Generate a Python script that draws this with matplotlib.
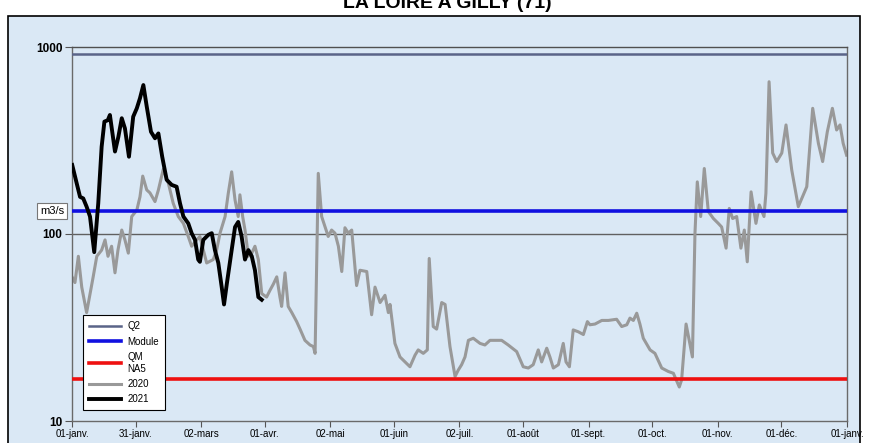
import matplotlib.pyplot as plt
from matplotlib.patches import Rectangle
from matplotlib.ticker import FixedLocator, NullLocator, FixedFormatter

plt.rcParams['font.family'] = ['Liberation Sans', 'DejaVu Sans']

title = 'LA LOIRE A GILLY (71)'

# reference flows (m3/s)
q2 = 918
module = 133
qmna5 = 16.8

# x axis: day of year
tick_days = [0, 30, 61, 91, 122, 152, 183, 213, 244, 274, 305, 335, 366]
tick_labels = ['01-janv.', '31-janv.', '02-mars', '01-avr.', '02-mai', '01-juin',
               '02-juil.', '01-août', '01-sept.', '01-oct.', '01-nov.', '01-déc.',
               '01-janv.']

# 2020 daily flow
days_2020 = [0, 1.4, 3, 4.6, 6.9, 10, 11.7, 14, 15.6, 17, 18.7, 20.3, 21.7, 23.5,
             25, 26.6, 28.2, 30.6, 32.1, 33.4, 35.3, 36.8, 39.2, 40.8, 43.1, 45.5,
             47.8, 50.2, 52.6, 54.9, 56.5, 58.9, 60.4, 63.6, 66.7, 68.3, 69.9, 72.3,
             73.8, 75.4, 77, 78.5, 79.3, 80.6, 81.7, 83.3, 84.9, 86.4, 88, 89.6,
             91.9, 93.5, 95.1, 96.7, 98.2, 99, 100.6, 102.1, 103.8, 106.1, 107.7,
             110, 112.4, 114, 114.8, 116.3, 117.9, 119.5, 121, 122.6, 124.2, 125.8,
             127.4, 128.9, 130.5, 132.1, 134.4, 136, 139.2, 141.5, 143.1, 145.5,
             147.8, 149.4, 150.2, 152.5, 154.9, 157.3, 159.6, 162, 163.5, 165.9,
             167.8, 168.7, 170.6, 172.2, 174.6, 176.2, 178.5, 180.9, 182.4, 184,
             185.6, 187.2, 189.5, 192.7, 195, 197.4, 199.8, 202.9, 206, 210, 213.1,
             215.5, 217.8, 220.2, 221.8, 224.2, 225.7, 227.3, 229.7, 232, 233.3,
             234.9, 236.7, 239.1, 241.5, 243.4, 244.6, 247, 250.2, 253.3, 257.2,
             259.6, 262, 263.5, 265.1, 266.7, 268.2, 269.8, 273, 275.3, 278.5,
             281.6, 284, 286.8, 287.9, 290, 291.5, 293, 294.2, 295.3, 296.9, 298.6,
             300.5, 302.9, 305.2, 306.8, 308.9, 310.4, 312, 313.9, 315.9, 317.5,
             318.9, 320.7, 323, 324.6, 326.8, 327.7, 329.2, 330.9, 332.8, 335.2,
             337.2, 339.9, 343, 345.4, 347, 349.8, 352.5, 354.5, 356.7, 359.1,
             361.1, 362.7, 364.2, 365.8]
flow_2020 = [59, 55, 76, 52, 38, 59, 76, 82, 93, 76, 86, 62, 82, 105,
             93, 79, 124, 134, 158, 204, 172, 166, 149, 172, 222, 187,
             146, 124, 114, 97, 86, 93, 97, 70, 73, 82, 101, 124,
             165, 215, 152, 124, 162, 124, 105, 76, 79, 86, 73, 48,
             46, 50, 54, 59, 46, 41, 62, 41, 38, 34, 31,
             27, 25.5, 25, 23, 211, 124, 109, 97, 105, 101, 86,
             63, 108, 101, 105, 53, 64, 63, 37, 52, 43,
             47, 38, 42, 26, 22, 20.7, 19.5, 22.5, 24, 23,
             24, 74, 32, 31, 43, 42, 25, 17.3, 18.7, 20,
             22, 27, 27.7, 26, 25.5, 27, 27, 27, 25.5, 23.5, 19.5,
             19.2, 20, 24, 20.7, 24.5, 22, 19.2, 20, 26, 20.7,
             19.5, 30.7, 30, 29, 34, 32.7, 33, 34.5, 34.5, 35,
             32, 32.7, 35.5, 34.5, 37.7, 33, 27.7, 24, 23, 19.2,
             18.4, 18, 15.2, 16.6, 33, 27, 22, 101, 190, 124, 224,
             132, 121, 114, 109, 84, 137, 121, 124, 84, 105,
             71, 168, 114, 143, 124, 165, 652, 271, 244, 271,
             383, 220, 140, 162, 179, 470, 305, 244, 352, 470,
             360, 383, 305, 264]

# 2021 daily flow (up to end of March)
days_2021 = [0.1, 2.2, 3.8, 5.3, 6.9, 8.5, 10.5, 12.4, 14, 15.3, 16.9, 17.9, 20.3,
             21.9, 23.5, 25, 26.9, 28.9, 30.6, 32.1, 33.7, 35.3, 37.3, 39.2, 40.8,
             42.6, 44.7, 47.1, 49.4, 51, 52.6, 54.9, 56.5, 58.1, 59.6, 60.4, 62,
             64.4, 66, 67.5, 69.1, 70.7, 71.8, 73.1, 75.4, 77, 78.5, 80.1, 81.7,
             83.3, 84.9, 86.4, 88, 89.6]
flow_2021 = [234, 187, 158, 155, 140, 124, 80, 146, 293, 399, 406, 433, 276,
             331, 416, 367, 259, 424, 470, 532, 626, 480, 352, 325, 345,
             259, 195, 183, 179, 146, 124, 114, 101, 93, 73, 71, 93,
             99, 101, 82, 70, 52, 42, 54, 82, 109, 116, 97, 73,
             82, 76, 64, 46, 44.5]

fig = plt.figure(figsize=(8.7, 4.43), dpi=100)
fig.patch.set_facecolor('white')

# outer frame with the light blue background
frame = Rectangle((8 / 870, -0.05), 852 / 870, 1.05 - 16 / 443,
                  transform=fig.transFigure, facecolor='#dae8f5',
                  edgecolor='black', linewidth=1.2, zorder=-10)
fig.patches.append(frame)

fig.text(0.514, 1 - 8 / 443, title, ha='center', va='baseline',
         fontsize=14, fontweight='bold')

ax = fig.add_axes([72 / 870, 1 - 421 / 443, 775 / 870, 374 / 443])
ax.set_facecolor('none')
ax.set_yscale('log')
ax.set_ylim(10, 1000)
ax.set_xlim(0, 366)

for s in ['left', 'right', 'bottom', 'top']:
    ax.spines[s].set_color('#6a6a6a')
    ax.spines[s].set_linewidth(1.0)
ax.spines['top'].set_color('#505050')

ax.axhline(100, color='#606060', lw=1.0, zorder=1)

ax.plot(days_2020, flow_2020, color='#999999', lw=2.2, zorder=2, label='2020')
ax.axhline(q2, color='#5a6488', lw=1.8, zorder=3, label='Q2')
ax.axhline(module, color='#1010e0', lw=2.6, zorder=3, label='Module')
ax.axhline(qmna5, color='#ee1010', lw=2.6, zorder=3, label='QM\nNA5')
ax.plot(days_2021, flow_2021, color='black', lw=2.8, zorder=4, label='2021')

ax.yaxis.set_major_locator(FixedLocator([10, 100, 1000]))
ax.yaxis.set_major_formatter(FixedFormatter(['10', '100', '1000']))
ax.yaxis.set_minor_locator(NullLocator())
ax.tick_params(axis='y', length=5, width=0.8, color='#555555', labelsize=8.5, pad=2)
for t in ax.get_yticklabels():
    t.set_fontweight('bold')

ax.set_xticks(tick_days)
ax.set_xticklabels(tick_labels)
ax.tick_params(axis='x', length=4, width=0.8, color='#555555', labelsize=7, pad=2)

fig.text(52 / 870, 1 - 211 / 443, 'm3/s', ha='center', va='center', fontsize=8,
         bbox=dict(boxstyle='square,pad=0.25', facecolor='white', edgecolor='#777777', lw=0.8))

h, l = ax.get_legend_handles_labels()
order = [l.index(k) for k in ['Q2', 'Module', 'QM\nNA5', '2020', '2021']]
leg = ax.legend([h[i] for i in order], [l[i] for i in order],
                loc='lower left', bbox_to_anchor=(0.014, 0.029), borderaxespad=0,
                fontsize=7, handlelength=3.3, handletextpad=0.7, labelspacing=0.55,
                fancybox=False, framealpha=1, edgecolor='black', borderpad=0.6)
leg.get_frame().set_linewidth(0.8)

fig.savefig('out.png', dpi=100)
